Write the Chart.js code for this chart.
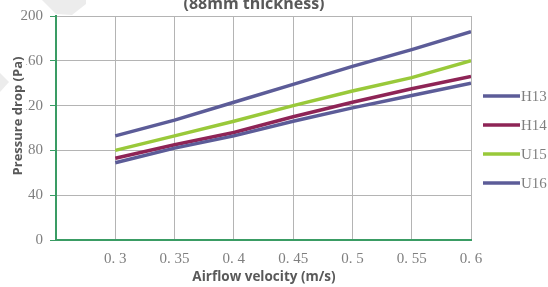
<!DOCTYPE html>
<html>
<head>
<meta charset="utf-8">
<script src="https://cdn.jsdelivr.net/npm/chart.js@4.4.1/dist/chart.umd.min.js"></script>
<style>
  html, body { margin: 0; padding: 0; background: #fff; }
  #wrap { width: 548px; height: 287px; position: relative; }
</style>
</head>
<body>
<div id="wrap"><canvas id="chart"></canvas></div>
<script>
const velocities = [0.3, 0.35, 0.4, 0.45, 0.5, 0.55, 0.6];
const h13 = [69, 82, 93, 106, 118, 129, 140];
const h14 = [73, 85, 96, 110, 123, 135, 146];
const u15 = [80, 93, 106, 120, 133, 145, 160];
const u16 = [93, 107, 123, 139, 155, 170, 186];
const seriesNames = ['H13', 'H14', 'U15', 'U16'];
const seriesColors = ['#5c5c98', '#8e2456', '#99c93a', '#5c5c98'];
const yTicks = [0, 40, 80, 120, 160, 200];
const chartTitle = '(88mm thickness)';
const xTitle = 'Airflow velocity (m/s)';
const yTitle = 'Pressure drop (Pa)';

const axisGreen = '#3a9c64';
const serif = "'Liberation Serif', serif";
const sans = "'Open Sans', sans-serif";

function pts(vals) {
  return velocities.map((v, i) => ({ x: v, y: vals[i] }));
}

const allSeries = [h13, h14, u15, u16];
const datasets = allSeries.map((vals, i) => ({
  label: seriesNames[i],
  data: pts(vals),
  borderColor: seriesColors[i],
  backgroundColor: seriesColors[i],
  borderWidth: 3.5,
  pointRadius: 0,
  tension: 0
}));

// faint watermark pieces in the corner
const backdrop = {
  id: 'backdrop',
  beforeDraw(chart) {
    const ctx = chart.ctx;
    ctx.save();
    ctx.fillStyle = '#ececec';
    ctx.beginPath();
    ctx.moveTo(42, 0); ctx.lineTo(86, 0); ctx.lineTo(86, 4);
    ctx.lineTo(72, 15); ctx.lineTo(56, 14); ctx.closePath();
    ctx.fill();
    ctx.beginPath();
    ctx.moveTo(0, 73); ctx.lineTo(9, 82); ctx.lineTo(0, 92); ctx.closePath();
    ctx.fill();
    ctx.restore();
  }
};

// titles, legend drawn on the canvas
const extras = {
  id: 'extras',
  afterDraw(chart) {
    const ctx = chart.ctx;
    ctx.save();
    ctx.fillStyle = '#595959';
    ctx.font = "bold 16px " + sans;
    ctx.textAlign = 'center';
    ctx.textBaseline = 'alphabetic';
    ctx.fillText(chartTitle, 254, 9);

    ctx.font = "bold 13.5px " + sans;
    ctx.textBaseline = 'middle';
    ctx.fillText(xTitle, 264, 277);

    // y title sits in a white box over the tick labels
    ctx.translate(18, 116);
    ctx.rotate(-Math.PI / 2);
    ctx.font = "bold 13px " + sans;
    const w = ctx.measureText(yTitle).width;
    ctx.fillStyle = '#fff';
    ctx.fillRect(-w / 2 - 2, -8, w + 4, 16);
    ctx.fillStyle = '#595959';
    ctx.fillText(yTitle, 0, 0);
    ctx.restore();

    // legend
    ctx.save();
    ctx.font = "15px " + serif;
    ctx.textBaseline = 'middle';
    ctx.textAlign = 'left';
    seriesNames.forEach((name, i) => {
      const y = 96 + i * 29;
      ctx.strokeStyle = seriesColors[i];
      ctx.lineWidth = 3.5;
      ctx.beginPath();
      ctx.moveTo(483, y);
      ctx.lineTo(520, y);
      ctx.stroke();
      ctx.fillStyle = '#7f7f7f';
      ctx.fillText(name, 521, y + 1);
    });
    ctx.restore();
  }
};

new Chart(document.getElementById('chart'), {
  type: 'line',
  data: { datasets },
  options: {
    responsive: true,
    maintainAspectRatio: false,
    animation: false,
    layout: { padding: { top: 15, right: 77, left: 0, bottom: 0 } },
    plugins: { legend: { display: false }, title: { display: false }, tooltip: { enabled: false } },
    scales: {
      x: {
        type: 'linear',
        min: 0.25,
        max: 0.6,
        afterBuildTicks: s => { s.ticks = velocities.map(v => ({ value: v })); },
        afterFit: s => { s.height = 47; },
        grid: { color: '#b4b4b4', lineWidth: 1, drawTicks: false },
        border: { color: axisGreen, width: 2 },
        ticks: {
          padding: 10,
          color: '#7f7f7f',
          font: { family: serif, size: 15 },
          maxRotation: 0,
          callback: v => String(v).replace('.', '. ')
        }
      },
      y: {
        min: 0,
        max: 200,
        afterBuildTicks: s => { s.ticks = yTicks.map(v => ({ value: v })); },
        afterFit: s => { s.width = 56; },
        grid: { color: '#b4b4b4', lineWidth: 1, tickColor: axisGreen, tickLength: 6 },
        border: { color: axisGreen, width: 2 },
        ticks: {
          padding: 7,
          color: '#7f7f7f',
          font: { family: serif, size: 15 }
        }
      }
    }
  },
  plugins: [backdrop, extras]
});
</script>
</body>
</html>
